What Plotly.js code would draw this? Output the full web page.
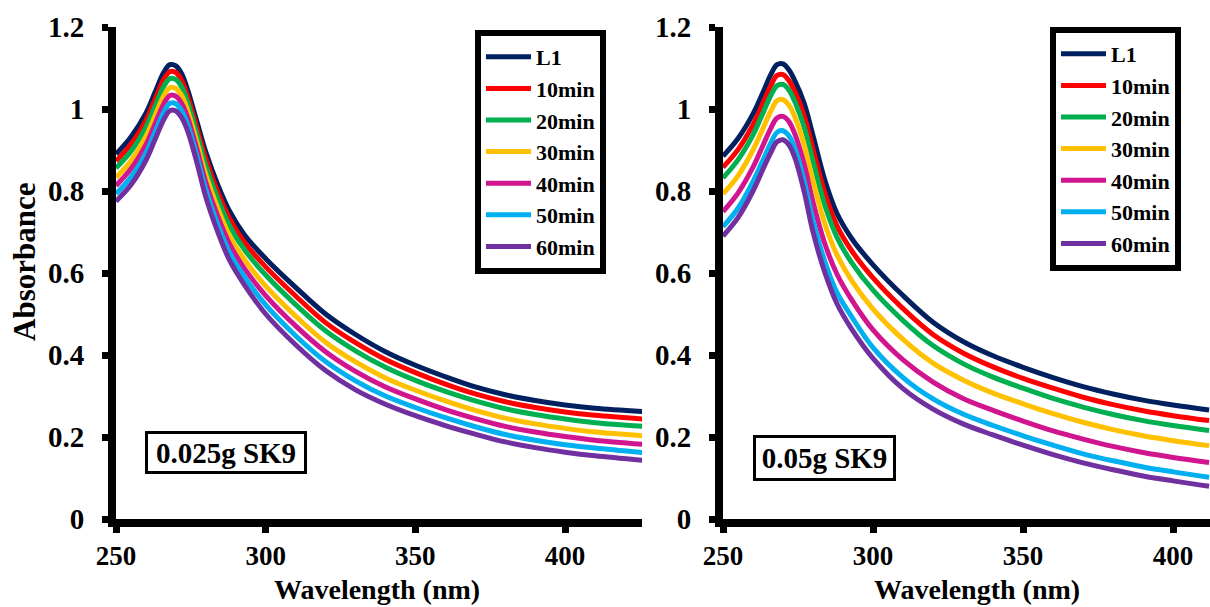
<!DOCTYPE html>
<html>
<head>
<meta charset="utf-8">
<script src="https://cdn.plot.ly/plotly-3.0.1.min.js"></script>
<style>html,body{margin:0;padding:0;background:#fff;}#chart{width:1210px;height:607px;}</style>
</head>
<body>
<div id="chart"></div>
<script>
// ---------- DATA ----------
const seriesNames = ["L1", "10min", "20min", "30min", "40min", "50min", "60min"];
const seriesColors = ["#002060", "#FF0000", "#00B050", "#FFC000", "#D0158F", "#00B0F0", "#7030A0"];

// Panel A: 0.025g SK9
const wavelengthA = [250,255,260,263,266,268,270,272,274,277,280,284,288,293,300,310,320,330,340,350,360,370,380,390,400,410,426];
const a_L1    = [0.890,0.932,0.990,1.040,1.090,1.108,1.105,1.085,1.045,0.970,0.895,0.815,0.750,0.692,0.635,0.565,0.500,0.450,0.408,0.375,0.347,0.322,0.303,0.289,0.278,0.270,0.262];
const a_10min = [0.873,0.914,0.973,1.023,1.073,1.091,1.089,1.069,1.030,0.955,0.879,0.798,0.732,0.674,0.615,0.544,0.479,0.430,0.389,0.357,0.329,0.305,0.286,0.272,0.261,0.253,0.244];
const a_20min = [0.856,0.897,0.956,1.006,1.056,1.074,1.072,1.053,1.015,0.940,0.862,0.781,0.714,0.656,0.595,0.523,0.459,0.410,0.370,0.338,0.311,0.288,0.269,0.255,0.244,0.235,0.226];
const a_30min = [0.833,0.874,0.933,0.983,1.033,1.052,1.050,1.032,0.995,0.920,0.840,0.758,0.690,0.632,0.568,0.495,0.431,0.383,0.344,0.314,0.288,0.265,0.246,0.232,0.221,0.212,0.203];
const a_40min = [0.813,0.854,0.913,0.963,1.013,1.033,1.031,1.013,0.978,0.903,0.821,0.738,0.670,0.610,0.545,0.471,0.408,0.360,0.322,0.293,0.267,0.245,0.226,0.212,0.201,0.192,0.182];
const a_50min = [0.793,0.834,0.893,0.943,0.993,1.014,1.013,0.995,0.961,0.886,0.803,0.718,0.649,0.590,0.522,0.447,0.384,0.337,0.300,0.272,0.247,0.225,0.206,0.192,0.181,0.173,0.162];
const a_60min = [0.775,0.815,0.875,0.925,0.975,0.996,0.995,0.978,0.945,0.870,0.785,0.700,0.630,0.570,0.500,0.425,0.362,0.315,0.280,0.252,0.228,0.207,0.188,0.174,0.163,0.154,0.143];

// Panel B: 0.05g SK9
const wavelengthB = [250,255,260,263,266,268,270,272,274,277,280,284,288,293,300,310,320,330,340,350,360,370,380,390,400,412];
const b_L1    = [0.885,0.928,0.988,1.035,1.085,1.108,1.110,1.095,1.068,1.015,0.935,0.825,0.745,0.683,0.620,0.545,0.480,0.433,0.398,0.370,0.345,0.323,0.305,0.290,0.278,0.266];
const b_10min = [0.858,0.901,0.962,1.009,1.058,1.082,1.084,1.069,1.042,0.985,0.902,0.794,0.715,0.653,0.588,0.513,0.450,0.405,0.371,0.343,0.319,0.297,0.279,0.264,0.252,0.240];
const b_20min = [0.832,0.876,0.937,0.985,1.034,1.057,1.060,1.046,1.017,0.957,0.872,0.764,0.687,0.624,0.558,0.484,0.423,0.379,0.346,0.319,0.294,0.273,0.255,0.240,0.228,0.216];
const b_30min = [0.793,0.837,0.900,0.947,0.996,1.020,1.023,1.009,0.980,0.914,0.825,0.719,0.644,0.580,0.512,0.438,0.380,0.339,0.307,0.281,0.257,0.236,0.218,0.203,0.191,0.179];
const b_40min = [0.750,0.795,0.858,0.906,0.954,0.978,0.982,0.969,0.938,0.867,0.773,0.670,0.597,0.533,0.461,0.388,0.334,0.294,0.265,0.239,0.215,0.195,0.177,0.162,0.150,0.138];
const b_50min = [0.713,0.758,0.823,0.870,0.918,0.943,0.947,0.934,0.903,0.826,0.728,0.627,0.552,0.492,0.418,0.345,0.293,0.256,0.228,0.203,0.180,0.159,0.142,0.127,0.115,0.102];
const b_60min = [0.690,0.735,0.800,0.848,0.895,0.920,0.925,0.912,0.880,0.800,0.700,0.600,0.525,0.462,0.392,0.318,0.268,0.232,0.205,0.180,0.157,0.137,0.120,0.105,0.093,0.080];

const xTickVals = [250, 300, 350, 400];
const yTickVals = [0, 0.2, 0.4, 0.6, 0.8, 1, 1.2];
const panelLabels = ["0.025g SK9", "0.05g SK9"];
const xTitle = "Wavelength (nm)";
const yTitle = "Absorbance";

// ---------- CHART ----------
const W = 1210, H = 607;
const px = v => v / W, py = v => 1 - v / H;
const FONT = "Liberation Serif, Times New Roman, serif";

const seriesA = [a_L1, a_10min, a_20min, a_30min, a_40min, a_50min, a_60min];
const seriesB = [b_L1, b_10min, b_20min, b_30min, b_40min, b_50min, b_60min];

const traces = [];
seriesA.forEach((ys, i) => traces.push({
  x: wavelengthA, y: ys, type: "scatter", mode: "lines", name: seriesNames[i],
  line: {color: seriesColors[i], width: 5, shape: "spline", smoothing: 1},
  xaxis: "x", yaxis: "y", legend: "legend"
}));
seriesB.forEach((ys, i) => traces.push({
  x: wavelengthB, y: ys, type: "scatter", mode: "lines", name: seriesNames[i],
  line: {color: seriesColors[i], width: 5, shape: "spline", smoothing: 1},
  xaxis: "x2", yaxis: "y2", legend: "legend2"
}));

const yDom = [py(519), py(27)];
const axisCommon = {
  showline: true, linecolor: "#000", linewidth: 8, showgrid: false, zeroline: false,
  ticks: "outside", ticklen: 6, tickwidth: 7, tickcolor: "#000"
};
const xAxisCommon = Object.assign({}, axisCommon, {
  tickmode: "array", tickvals: xTickVals, ticktext: xTickVals.map(String),
  tickfont: {family: FONT, size: 27, color: "#000", weight: "bold"}
});
const yAxisCommon = Object.assign({}, axisCommon, {
  range: [0, 1.2], tickmode: "array", tickvals: yTickVals, ticktext: yTickVals.map(String),
  ticklabelstandoff: 12,
  tickfont: {family: FONT, size: 29, color: "#000", weight: "bold"}
});

const legendCommon = {
  bgcolor: "#fff", bordercolor: "#000", borderwidth: 6, itemwidth: 45,
  font: {family: FONT, size: 22, color: "#000", weight: "bold"},
  xanchor: "left", yanchor: "top", tracegroupgap: 0
};

const boxFont = {family: FONT, size: 29, color: "#000", weight: "bold"};
const titleFont = {family: FONT, size: 28, color: "#000", weight: "bold"};
const layout = {
  width: W, height: H, margin: {l: 0, r: 0, t: 0, b: 0},
  paper_bgcolor: "#fff", plot_bgcolor: "#fff",
  xaxis: Object.assign({}, xAxisCommon, {domain: [px(116), px(642)], range: [250, 425.7], anchor: "y"}),
  yaxis: Object.assign({}, yAxisCommon, {domain: yDom, anchor: "x"}),
  xaxis2: Object.assign({}, xAxisCommon, {domain: [px(723), 1], range: [250, 412.3], anchor: "y2"}),
  yaxis2: Object.assign({}, yAxisCommon, {domain: yDom, anchor: "x2"}),
  legend: Object.assign({}, legendCommon, {x: px(475), y: py(30)}),
  legend2: Object.assign({}, legendCommon, {x: px(1050), y: py(27)}),
  showlegend: true,
  annotations: [
    {text: panelLabels[0], xref: "paper", yref: "paper", x: px(225.5), y: py(452.5), xanchor: "center", yanchor: "middle",
     showarrow: false, font: boxFont, width: 152, height: 33,
     bordercolor: "#000", borderwidth: 3, borderpad: 2, bgcolor: "#fff"},
    {text: panelLabels[1], xref: "paper", yref: "paper", x: px(825), y: py(458), xanchor: "center", yanchor: "middle",
     showarrow: false, font: boxFont, width: 133, height: 36,
     bordercolor: "#000", borderwidth: 3, borderpad: 2, bgcolor: "#fff"},
    {text: yTitle, xref: "paper", yref: "paper", x: px(25), y: py(262), xanchor: "center", yanchor: "middle",
     textangle: -90, showarrow: false, font: {family: FONT, size: 31, color: "#000", weight: "bold"}},
    {text: xTitle, xref: "paper", yref: "paper", x: px(377), y: py(589), xanchor: "center", yanchor: "middle",
     showarrow: false, font: titleFont, borderpad: 0},
    {text: xTitle, xref: "paper", yref: "paper", x: px(977), y: py(589), xanchor: "center", yanchor: "middle",
     showarrow: false, font: titleFont, borderpad: 0}
  ]
};

Plotly.newPlot("chart", traces, layout, {staticPlot: true, displayModeBar: false});
</script>
</body>
</html>
